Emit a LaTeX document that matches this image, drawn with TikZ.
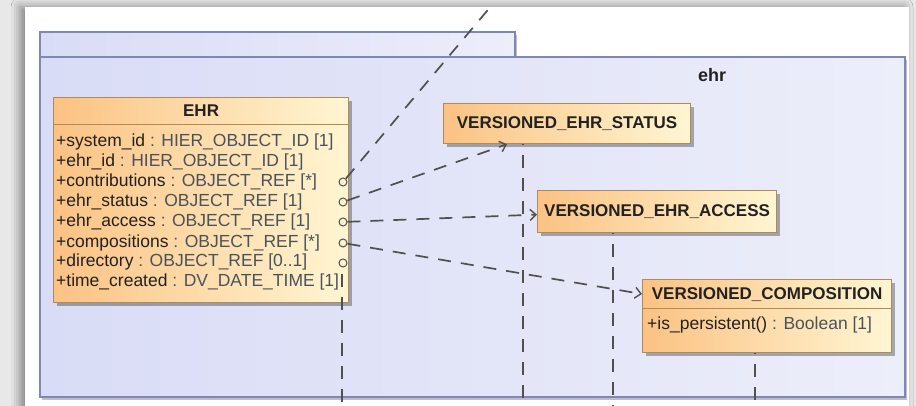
\documentclass[tikz,border=0pt]{standalone}
\usepackage{fontspec}
\setmainfont{Liberation Sans}
\usetikzlibrary{arrows.meta,calc,shadows,shadows.blur}
\definecolor{bgc}{HTML}{E8E8E8}
\definecolor{pkgleft}{HTML}{D9DCF6}
\definecolor{pkgright}{HTML}{ECEEFA}
\definecolor{pkgborder}{HTML}{7E87B6}
\definecolor{clsleft}{HTML}{FBC283}
\definecolor{clsright}{HTML}{FFF6D2}
\definecolor{clsborder}{HTML}{B38A55}
\definecolor{txtdark}{HTML}{222222}
\definecolor{txttype}{HTML}{4A525C}
\definecolor{linec}{HTML}{505050}
\begin{document}
\begin{tikzpicture}[x=1pt,y=-1pt,
  pkg/.style={draw=pkgborder, line width=1.4pt, left color=pkgleft, right color=pkgright},
  cls/.style={draw=clsborder, line width=1.2pt, left color=clsleft, right color=clsright,
    drop shadow={shadow xshift=3pt, shadow yshift=-3pt, opacity=0.3, fill=black},
    anchor=north west, inner sep=0pt, text=txtdark,
    font=\fontsize{17}{20}\selectfont\bfseries},
  sepline/.style={draw=clsborder, line width=1pt},
  attr/.style={anchor=west, inner sep=0pt, text=txttype, font=\fontsize{17.5}{20}\selectfont},
  title/.style={inner sep=0pt, text=txtdark, font=\fontsize{17}{20}\selectfont\bfseries},
  endmark/.style={circle, draw=linec, line width=1pt, minimum size=8pt, inner sep=0pt},
  depline/.style={draw=linec, line width=1.7pt, dash pattern=on 13pt off 10pt},
  dep/.style={depline, -{Straight Barb[length=6pt,width=11pt,line width=1.4pt]}}
]
\useasboundingbox (0,0) rectangle (916,406);
\fill[bgc] (0,0) rectangle (916,406);
% white panel
\path[fill=white, blur shadow={shadow xshift=-5pt, shadow yshift=0pt, shadow blur radius=9pt, shadow opacity=45}] (25,7) rectangle (909,440);
% package
\path[pkg, drop shadow={shadow xshift=2pt, shadow yshift=-3pt, opacity=0.25, fill=black}] (40,32) rectangle (515,57);
\path[pkg, drop shadow={shadow xshift=2pt, shadow yshift=-3pt, opacity=0.25, fill=black}] (40,57) rectangle (905,397);
\node[inner sep=0pt, text=txtdark, font=\fontsize{18}{20}\selectfont\bfseries] (pkgname) at (712,75) {ehr};

% EHR class
\node[cls, minimum width=295pt, minimum height=205pt] (EHR) at (53,97) {};
\node[title] (EHRt) at ($(EHR.north)+(0,14)$) {EHR};
\draw[sepline] ($(EHR.north west)+(0,28)$) -- ($(EHR.north east)+(0,28)$);
\node[attr] (a1) at (56,142) {{\color{txtdark}+system\_id} : HIER\_OBJECT\_ID [1]};
\node[attr] (a2) at (56,162) {{\color{txtdark}+ehr\_id} : HIER\_OBJECT\_ID [1]};
\node[attr] (a3) at (56,182) {{\color{txtdark}+contributions} : OBJECT\_REF [*]};
\node[attr] (a4) at (56,202) {{\color{txtdark}+ehr\_status} : OBJECT\_REF [1]};
\node[attr] (a5) at (56,222) {{\color{txtdark}+ehr\_access} : OBJECT\_REF [1]};
\node[attr] (a6) at (56,243) {{\color{txtdark}+compositions} : OBJECT\_REF [*]};
\node[attr] (a7) at (56,262) {{\color{txtdark}+directory} : OBJECT\_REF [0..1]};
\node[attr] (a8) at (56,282) {{\color{txtdark}+time\_created} : DV\_DATE\_TIME [1]};

% association end marks
\node[endmark] (m1) at (343,182) {};
\node[endmark] (m2) at (343,202) {};
\node[endmark] (m3) at (343,222) {};
\node[endmark] (m4) at (343,243) {};
\node[endmark] (m5) at (343,263) {};

% other classes
\node[cls, minimum width=247pt, minimum height=40pt] (VES) at (443,103) {VERSIONED\_EHR\_STATUS};
\node[cls, minimum width=239pt, minimum height=42pt] (VEA) at (537,190) {VERSIONED\_EHR\_ACCESS};
\node[cls, minimum width=249pt, minimum height=73pt] (VC) at (642,279) {};
\node[title] (VCt) at ($(VC.north)+(0,16)$) {VERSIONED\_COMPOSITION};
\draw[sepline] ($(VC.north west)+(0,29)$) -- ($(VC.north east)+(0,29)$);
\node[attr] (op1) at (647,325) {{\color{txtdark}+is\_persistent()} : Boolean [1]};

% free ends
\coordinate (up) at (492,5);
\coordinate (ehrd) at (342,412);
\coordinate (vesd) at (523,412);
\coordinate (vead) at (613,412);
\coordinate (vcd) at (755,412);

% connectors
\draw[depline] (m1) -- (up);
\draw[dep] (m2) -- ($(VES.south west)+(64,0)$);
\draw[dep] (m3) -- ($(VEA.west)+(0,3)$);
\draw[dep] (m4) -- ($(VC.north west)+(0,15)$);
\draw[depline, dash phase=0pt] (ehrd |- a8.north) -- (ehrd);
\draw[depline, dash phase=12pt] (VES.south -| vesd) -- (vesd);
\draw[depline, dash phase=12pt] (VEA.south -| vead) -- (vead);
\draw[depline, dash phase=12pt] (VC.south -| vcd) -- (vcd);
\end{tikzpicture}
\end{document}
